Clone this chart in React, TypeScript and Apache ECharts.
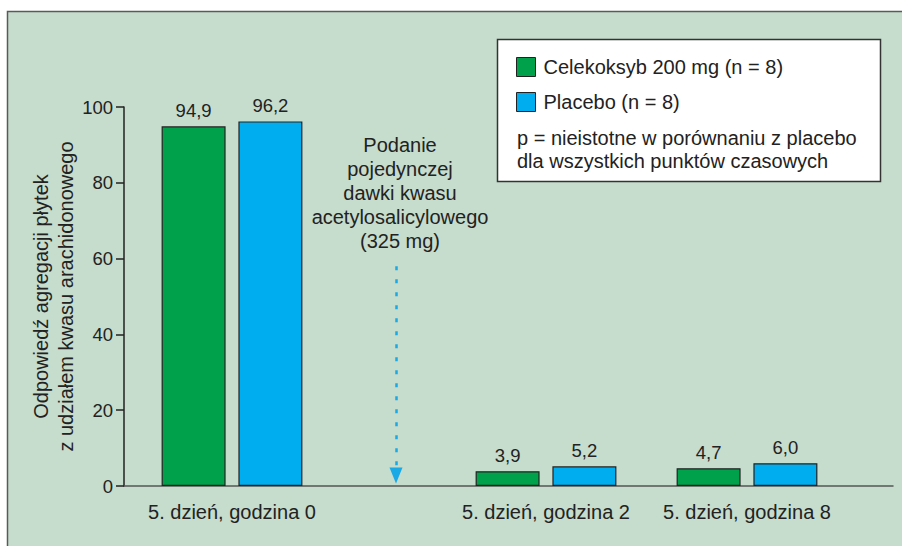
import React, { useEffect, useRef } from "react";
import * as echarts from "echarts";

// ---- data ----
const categories = ["5. dzień, godzina 0", "5. dzień, godzina 2", "5. dzień, godzina 8"];
const celecoxib = [94.9, 3.9, 4.7];
const placebo = [96.2, 5.2, 6.0];
const seriesNames = ["Celekoksyb 200 mg (n = 8)", "Placebo (n = 8)"];
const yTicks = [0, 20, 40, 60, 80, 100];
const annotation = ["Podanie", "pojedynczej", "dawki kwasu", "acetylosalicylowego", "(325 mg)"];
const note = ["p = nieistotne w porównaniu z placebo", "dla wszystkich punktów czasowych"];

// ---- layout (slot positions along the horizontal axis) ----
const groupSlots = [1.08, 4.22, 6.23];
const doseSlot = 2.72;
const slotMax = 7.69;
const arrowTop = 58;
const arrowEnd = 2.8;

const FONT = '"Liberation Sans", Arial, Helvetica, sans-serif';
const TEXT = "#222222";
const GREEN = "#00a14b";
const BLUE = "#00aeef";
const ARROW = "#19a9e6";

const fmt = (v: number) => v.toFixed(1).replace(".", ",");

export default function App() {
  const ref = useRef<HTMLDivElement>(null);
  useEffect(() => {
    if (!ref.current) return;
    const chart = echarts.init(ref.current, null, { renderer: "svg" });
    const mk = (vals: number[]) => categories.map((_, i) => [groupSlots[i], vals[i]]);
    const barLabel = {
      show: true,
      position: "top",
      distance: 6,
      color: TEXT,
      fontSize: 18.5,
      fontFamily: FONT,
      formatter: (p: any) => fmt(p.value[1]),
    };
    chart.setOption({
      animation: false,
      backgroundColor: "#ffffff",
      textStyle: { fontFamily: FONT },
      grid: { left: 124, right: 9, top: 107, bottom: 60, containLabel: false },
      xAxis: {
        type: "value",
        min: 0,
        max: slotMax,
        splitLine: { show: false },
        axisTick: { show: false },
        axisLine: { show: true, lineStyle: { color: "#555555", width: 1.5 } },
        axisLabel: {
          customValues: groupSlots,
          margin: 16,
          fontSize: 20,
          color: TEXT,
          fontFamily: FONT,
          formatter: (v: number) => {
            const i = groupSlots.findIndex((s) => Math.abs(s - v) < 1e-6);
            return i >= 0 ? categories[i] : "";
          },
        },
      },
      yAxis: {
        type: "value",
        min: yTicks[0],
        max: yTicks[yTicks.length - 1],
        interval: 20,
        splitLine: { show: false },
        axisLine: { show: true, lineStyle: { color: "#222222", width: 1.5 } },
        axisTick: { show: true, length: 8, lineStyle: { color: "#222222", width: 1.5 } },
        axisLabel: { margin: 11, fontSize: 18.5, color: TEXT, fontFamily: FONT },
        name: "Odpowiedź agregacji płytek\nz udziałem kwasu arachidonowego",
        nameLocation: "middle",
        nameRotate: 90,
        nameGap: 46,
        nameMoveOverlap: false,
        nameTextStyle: { fontSize: 20, lineHeight: 25, color: TEXT, fontFamily: FONT },
      },
      legend: {
        orient: "vertical",
        left: 516,
        top: 57,
        padding: 0,
        itemWidth: 19,
        itemHeight: 19,
        itemGap: 15,
        icon: "rect",
        selectedMode: false,
        data: seriesNames,
        itemStyle: { borderColor: "#222222", borderWidth: 1 },
        textStyle: { fontSize: 20, color: TEXT, fontFamily: FONT, padding: [0, 0, 0, 3] },
        z: 10,
      },
      series: [
        {
          name: seriesNames[0],
          type: "bar",
          data: mk(celecoxib),
          barWidth: 64,
          barGap: "20%",
          itemStyle: { color: GREEN, borderColor: "#222222", borderWidth: 1.2 },
          label: barLabel,
        },
        {
          name: seriesNames[1],
          type: "bar",
          data: mk(placebo),
          barWidth: 64,
          barGap: "20%",
          itemStyle: { color: BLUE, borderColor: "#222222", borderWidth: 1.2 },
          label: barLabel,
        },
        {
          name: "dose",
          type: "line",
          data: [],
          silent: true,
          markLine: {
            silent: true,
            symbol: ["none", "triangle"],
            symbolSize: [13, 16],
            label: { show: false },
            lineStyle: { color: ARROW, width: 2.5, type: [4, 9] },
            itemStyle: { color: ARROW },
            data: [[{ coord: [doseSlot, arrowTop] }, { coord: [doseSlot, arrowEnd] }]],
          },
        },
      ],
      graphic: [
        {
          type: "rect",
          z: -100,
          silent: true,
          shape: { x: 7.5, y: 11.5, width: 1000, height: 600 },
          style: { fill: "#c6dccd", stroke: "#5a5a5a", lineWidth: 1.5 },
        },
        {
          type: "rect",
          z: 1,
          silent: true,
          shape: { x: 497.5, y: 39.5, width: 383, height: 142 },
          style: { fill: "#ffffff", stroke: "#333333", lineWidth: 1.5 },
        },
        {
          type: "text",
          z: 5,
          silent: true,
          x: 517,
          y: 126.5,
          style: {
            text: note.join("\n"),
            fontSize: 20,
            fontFamily: FONT,
            fill: TEXT,
            lineHeight: 23,
            verticalAlign: "top",
            align: "left",
          },
        },
        {
          type: "text",
          z: 5,
          silent: true,
          x: 400,
          y: 133,
          style: {
            text: annotation.join("\n"),
            fontSize: 20,
            fontFamily: FONT,
            fill: TEXT,
            lineHeight: 24,
            verticalAlign: "top",
            align: "center",
          },
        },
      ],
    });
    return () => chart.dispose();
  }, []);
  return (
    <div
      ref={ref}
      style={{ position: "absolute", left: 0, top: 0, width: 902, height: 546 }}
    />
  );
}
